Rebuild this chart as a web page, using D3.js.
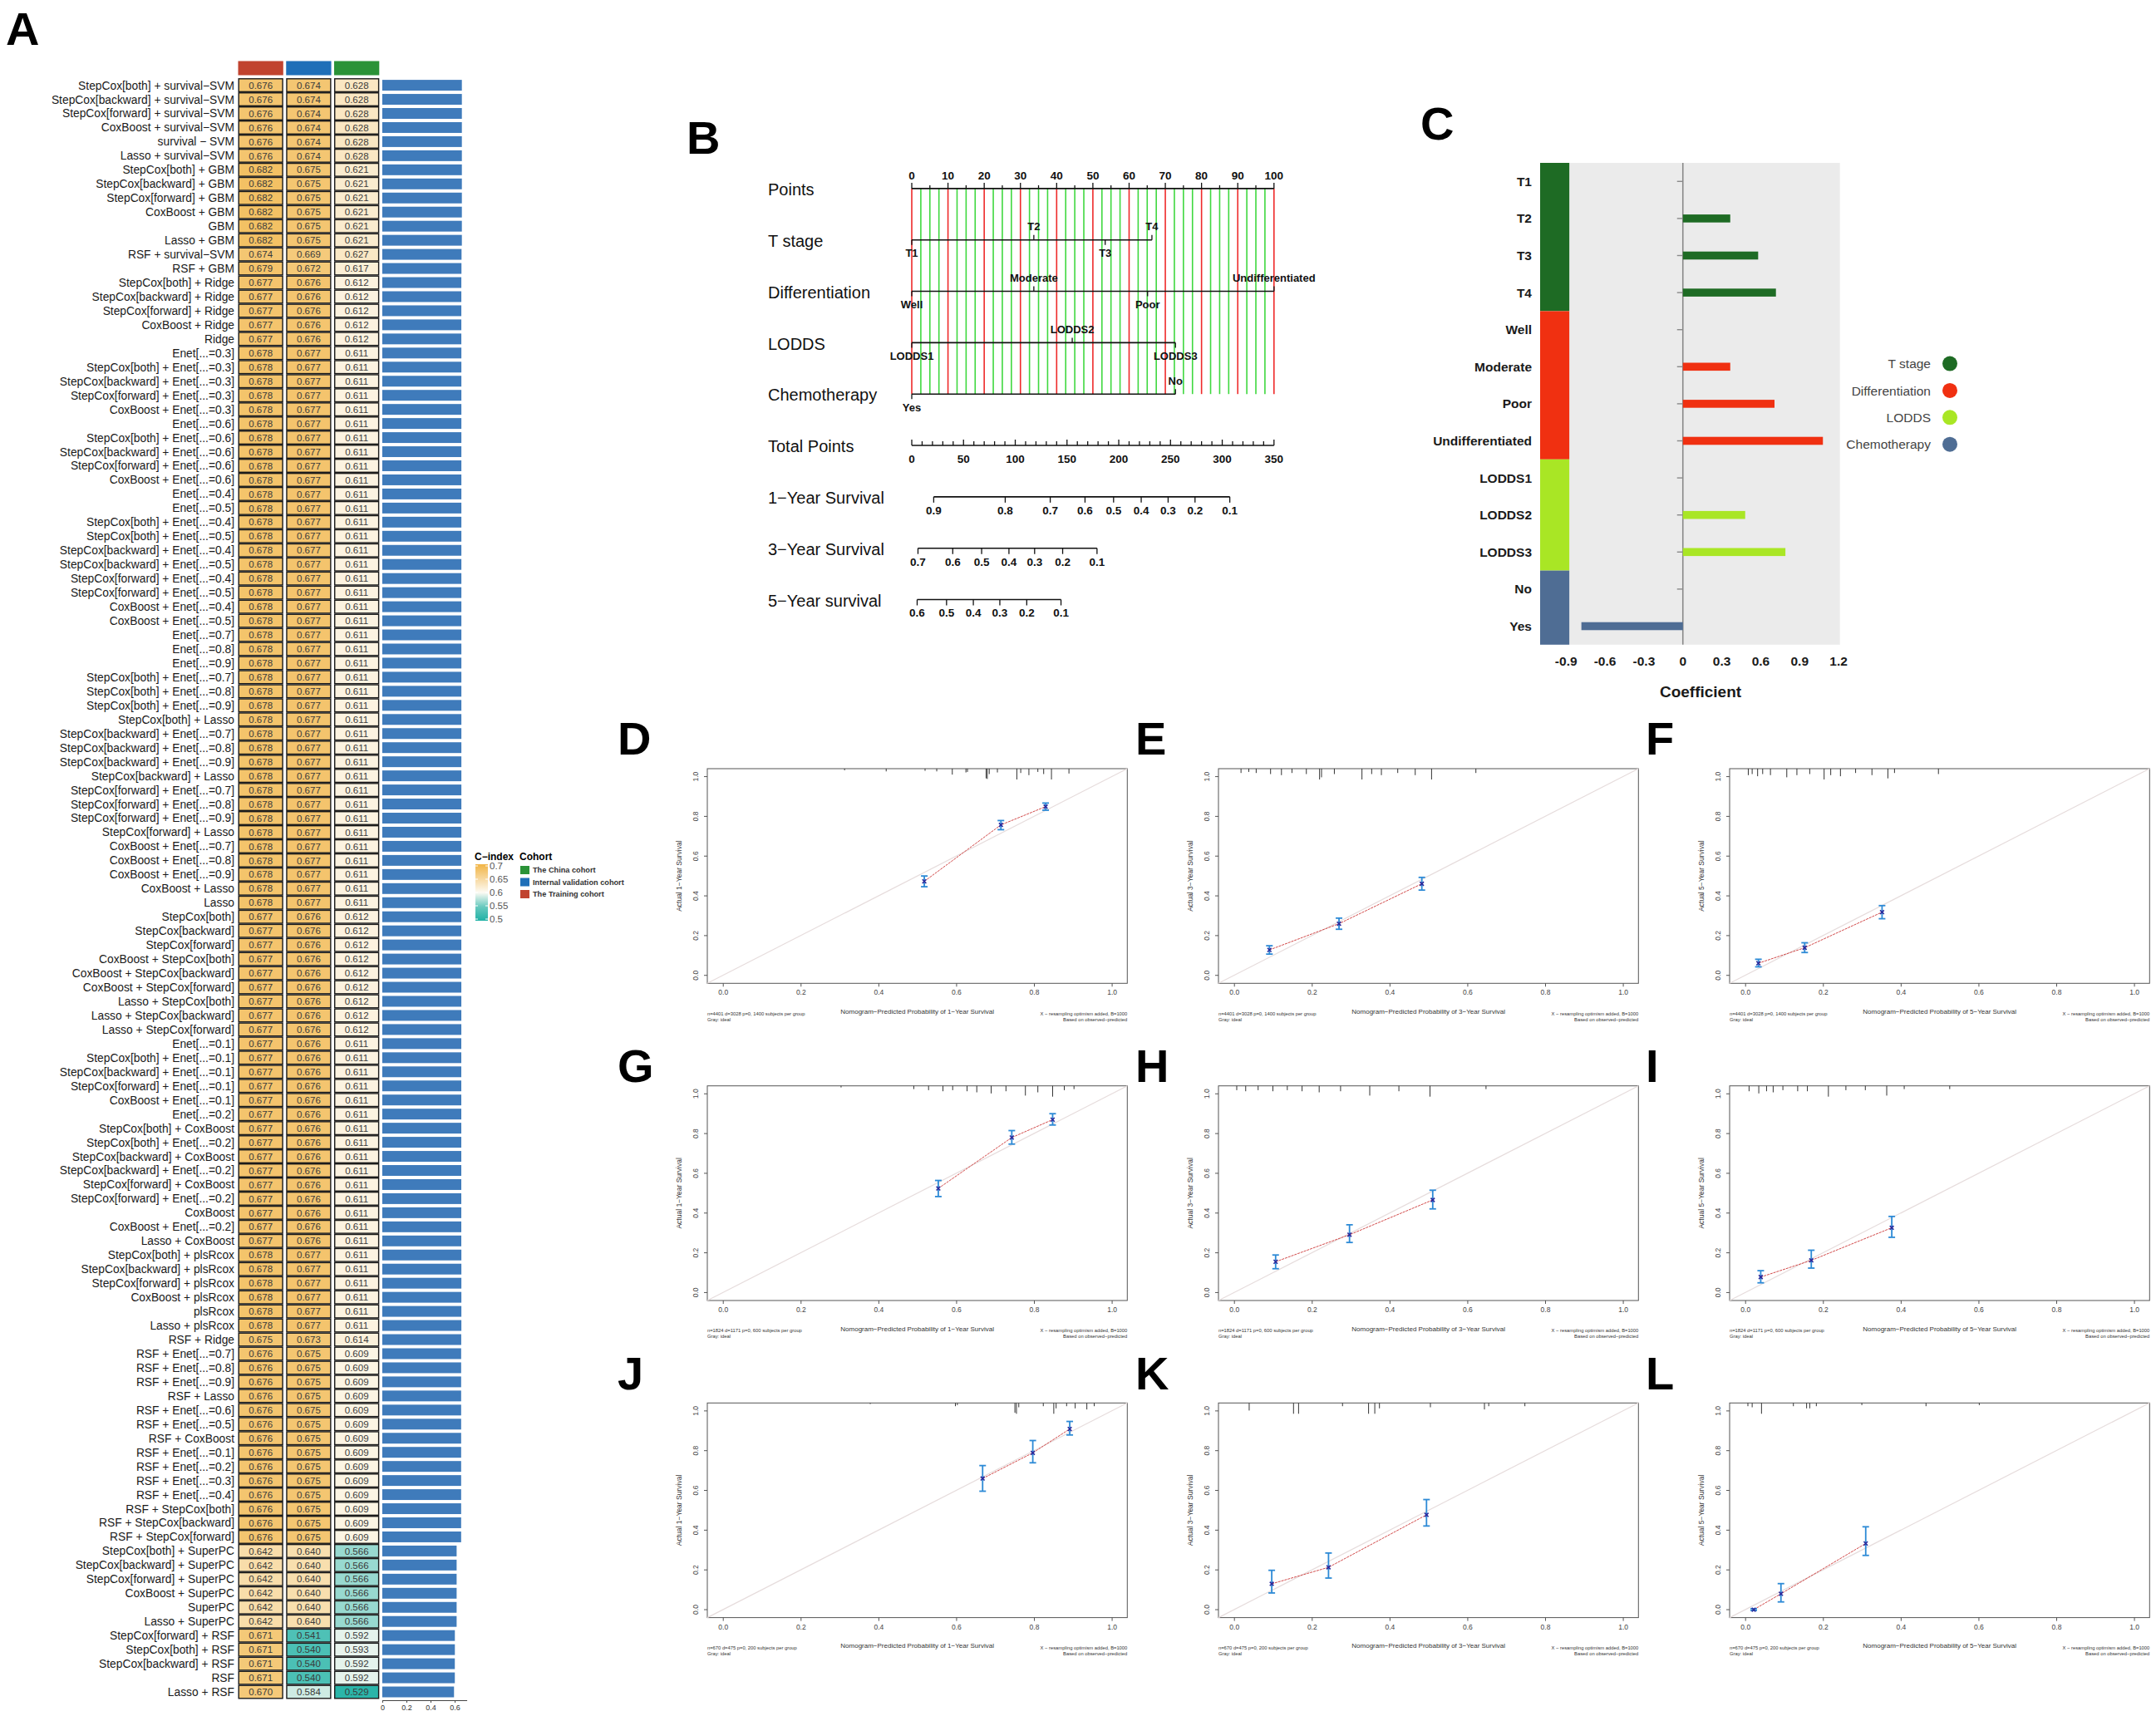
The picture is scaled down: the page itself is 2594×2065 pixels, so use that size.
<!DOCTYPE html>
<html>
<head>
<meta charset="utf-8">
<script src="https://cdn.jsdelivr.net/npm/d3@7"></script>
<style>
  body { margin: 0; background: #fff; }
  svg { display: block; }
  text { font-family: "Liberation Sans", Arial, sans-serif; }
</style>
</head>
<body>
<div id="chart"></div>
<script>
// ---------- Panel A: C-index of model combinations ----------
const modelNames = [
  "StepCox[both] + survival−SVM", "StepCox[backward] + survival−SVM", "StepCox[forward] + survival−SVM",
  "CoxBoost + survival−SVM", "survival − SVM", "Lasso + survival−SVM",
  "StepCox[both] + GBM", "StepCox[backward] + GBM", "StepCox[forward] + GBM", "CoxBoost + GBM", "GBM", "Lasso + GBM",
  "RSF + survival−SVM", "RSF + GBM",
  "StepCox[both] + Ridge", "StepCox[backward] + Ridge", "StepCox[forward] + Ridge", "CoxBoost + Ridge", "Ridge",
  "Enet[...=0.3]", "StepCox[both] + Enet[...=0.3]", "StepCox[backward] + Enet[...=0.3]", "StepCox[forward] + Enet[...=0.3]", "CoxBoost + Enet[...=0.3]",
  "Enet[...=0.6]", "StepCox[both] + Enet[...=0.6]", "StepCox[backward] + Enet[...=0.6]", "StepCox[forward] + Enet[...=0.6]", "CoxBoost + Enet[...=0.6]",
  "Enet[...=0.4]", "Enet[...=0.5]", "StepCox[both] + Enet[...=0.4]", "StepCox[both] + Enet[...=0.5]",
  "StepCox[backward] + Enet[...=0.4]", "StepCox[backward] + Enet[...=0.5]", "StepCox[forward] + Enet[...=0.4]", "StepCox[forward] + Enet[...=0.5]",
  "CoxBoost + Enet[...=0.4]", "CoxBoost + Enet[...=0.5]",
  "Enet[...=0.7]", "Enet[...=0.8]", "Enet[...=0.9]",
  "StepCox[both] + Enet[...=0.7]", "StepCox[both] + Enet[...=0.8]", "StepCox[both] + Enet[...=0.9]", "StepCox[both] + Lasso",
  "StepCox[backward] + Enet[...=0.7]", "StepCox[backward] + Enet[...=0.8]", "StepCox[backward] + Enet[...=0.9]", "StepCox[backward] + Lasso",
  "StepCox[forward] + Enet[...=0.7]", "StepCox[forward] + Enet[...=0.8]", "StepCox[forward] + Enet[...=0.9]", "StepCox[forward] + Lasso",
  "CoxBoost + Enet[...=0.7]", "CoxBoost + Enet[...=0.8]", "CoxBoost + Enet[...=0.9]", "CoxBoost + Lasso", "Lasso",
  "StepCox[both]", "StepCox[backward]", "StepCox[forward]",
  "CoxBoost + StepCox[both]", "CoxBoost + StepCox[backward]", "CoxBoost + StepCox[forward]",
  "Lasso + StepCox[both]", "Lasso + StepCox[backward]", "Lasso + StepCox[forward]",
  "Enet[...=0.1]", "StepCox[both] + Enet[...=0.1]", "StepCox[backward] + Enet[...=0.1]", "StepCox[forward] + Enet[...=0.1]", "CoxBoost + Enet[...=0.1]",
  "Enet[...=0.2]", "StepCox[both] + CoxBoost", "StepCox[both] + Enet[...=0.2]", "StepCox[backward] + CoxBoost", "StepCox[backward] + Enet[...=0.2]",
  "StepCox[forward] + CoxBoost", "StepCox[forward] + Enet[...=0.2]", "CoxBoost", "CoxBoost + Enet[...=0.2]", "Lasso + CoxBoost",
  "StepCox[both] + plsRcox", "StepCox[backward] + plsRcox", "StepCox[forward] + plsRcox", "CoxBoost + plsRcox", "plsRcox", "Lasso + plsRcox",
  "RSF + Ridge", "RSF + Enet[...=0.7]", "RSF + Enet[...=0.8]", "RSF + Enet[...=0.9]", "RSF + Lasso", "RSF + Enet[...=0.6]", "RSF + Enet[...=0.5]",
  "RSF + CoxBoost", "RSF + Enet[...=0.1]", "RSF + Enet[...=0.2]", "RSF + Enet[...=0.3]", "RSF + Enet[...=0.4]",
  "RSF + StepCox[both]", "RSF + StepCox[backward]", "RSF + StepCox[forward]",
  "StepCox[both] + SuperPC", "StepCox[backward] + SuperPC", "StepCox[forward] + SuperPC", "CoxBoost + SuperPC", "SuperPC", "Lasso + SuperPC",
  "StepCox[forward] + RSF", "StepCox[both] + RSF", "StepCox[backward] + RSF", "RSF", "Lasso + RSF"
];

const trainC = [
  0.676, 0.676, 0.676, 0.676, 0.676, 0.676,
  0.682, 0.682, 0.682, 0.682, 0.682, 0.682,
  0.674, 0.679,
  0.677, 0.677, 0.677, 0.677, 0.677,
  0.678, 0.678, 0.678, 0.678, 0.678, 0.678, 0.678, 0.678, 0.678, 0.678,
  0.678, 0.678, 0.678, 0.678, 0.678, 0.678, 0.678, 0.678, 0.678, 0.678,
  0.678, 0.678, 0.678, 0.678, 0.678, 0.678, 0.678, 0.678, 0.678, 0.678,
  0.678, 0.678, 0.678, 0.678, 0.678, 0.678, 0.678, 0.678, 0.678, 0.678,
  0.677, 0.677, 0.677, 0.677, 0.677, 0.677, 0.677, 0.677, 0.677,
  0.677, 0.677, 0.677, 0.677, 0.677, 0.677, 0.677, 0.677, 0.677, 0.677, 0.677, 0.677, 0.677, 0.677, 0.677,
  0.678, 0.678, 0.678, 0.678, 0.678, 0.678,
  0.675,
  0.676, 0.676, 0.676, 0.676, 0.676, 0.676, 0.676, 0.676, 0.676, 0.676, 0.676, 0.676, 0.676, 0.676,
  0.642, 0.642, 0.642, 0.642, 0.642, 0.642,
  0.671, 0.671, 0.671, 0.671, 0.670
];

const internalC = [
  0.674, 0.674, 0.674, 0.674, 0.674, 0.674,
  0.675, 0.675, 0.675, 0.675, 0.675, 0.675,
  0.669, 0.672,
  0.676, 0.676, 0.676, 0.676, 0.676,
  0.677, 0.677, 0.677, 0.677, 0.677, 0.677, 0.677, 0.677, 0.677, 0.677,
  0.677, 0.677, 0.677, 0.677, 0.677, 0.677, 0.677, 0.677, 0.677, 0.677,
  0.677, 0.677, 0.677, 0.677, 0.677, 0.677, 0.677, 0.677, 0.677, 0.677,
  0.677, 0.677, 0.677, 0.677, 0.677, 0.677, 0.677, 0.677, 0.677, 0.677,
  0.676, 0.676, 0.676, 0.676, 0.676, 0.676, 0.676, 0.676, 0.676,
  0.676, 0.676, 0.676, 0.676, 0.676, 0.676, 0.676, 0.676, 0.676, 0.676, 0.676, 0.676, 0.676, 0.676, 0.676,
  0.677, 0.677, 0.677, 0.677, 0.677, 0.677,
  0.673,
  0.675, 0.675, 0.675, 0.675, 0.675, 0.675, 0.675, 0.675, 0.675, 0.675, 0.675, 0.675, 0.675, 0.675,
  0.640, 0.640, 0.640, 0.640, 0.640, 0.640,
  0.541, 0.540, 0.540, 0.540, 0.584
];

const chinaC = [
  0.628, 0.628, 0.628, 0.628, 0.628, 0.628,
  0.621, 0.621, 0.621, 0.621, 0.621, 0.621,
  0.627, 0.617,
  0.612, 0.612, 0.612, 0.612, 0.612,
  0.611, 0.611, 0.611, 0.611, 0.611, 0.611, 0.611, 0.611, 0.611, 0.611,
  0.611, 0.611, 0.611, 0.611, 0.611, 0.611, 0.611, 0.611, 0.611, 0.611,
  0.611, 0.611, 0.611, 0.611, 0.611, 0.611, 0.611, 0.611, 0.611, 0.611,
  0.611, 0.611, 0.611, 0.611, 0.611, 0.611, 0.611, 0.611, 0.611, 0.611,
  0.612, 0.612, 0.612, 0.612, 0.612, 0.612, 0.612, 0.612, 0.612,
  0.611, 0.611, 0.611, 0.611, 0.611, 0.611, 0.611, 0.611, 0.611, 0.611, 0.611, 0.611, 0.611, 0.611, 0.611,
  0.611, 0.611, 0.611, 0.611, 0.611, 0.611,
  0.614,
  0.609, 0.609, 0.609, 0.609, 0.609, 0.609, 0.609, 0.609, 0.609, 0.609, 0.609, 0.609, 0.609, 0.609,
  0.566, 0.566, 0.566, 0.566, 0.566, 0.566,
  0.592, 0.593, 0.592, 0.592, 0.529
];

const cohortKeys = ["The Training cohort", "Internal validation cohort", "The China cohort"];
const cohortColors = ["#c1432f", "#1f6fb8", "#2b9338"];
const legendCohorts = ["The China cohort", "Internal validation cohort", "The Training cohort"];
const cIndexTicks = [0.7, 0.65, 0.6, 0.55, 0.5];
const barTicks = [0, 0.2, 0.4, 0.6];

// ---------- Panel B: nomogram ----------
const nomoRows = ["Points", "T stage", "Differentiation", "LODDS", "Chemotherapy",
                  "Total Points", "1−Year Survival", "3−Year Survival", "5−Year survival"];
const pointsTicks = [0, 10, 20, 30, 40, 50, 60, 70, 80, 90, 100];
const tStageLevels = ["T1", "T2", "T3", "T4"];
const tStagePoints = [0, 33.7, 53.4, 66.3];
const diffLevels = ["Well", "Moderate", "Poor", "Undifferentiated"];
const diffPoints = [0, 33.7, 65.1, 100];
const loddsLevels = ["LODDS1", "LODDS2", "LODDS3"];
const loddsPoints = [0, 44.3, 72.8];
const chemoLevels = ["Yes", "No"];
const chemoPoints = [0, 72.8];
const totalTicks = [0, 50, 100, 150, 200, 250, 300, 350];
const surv1Labels = ["0.9", "0.8", "0.7", "0.6", "0.5", "0.4", "0.3", "0.2", "0.1"];
const surv1Total = [21.2, 90.3, 133.8, 167.4, 195.0, 221.7, 247.7, 273.7, 307.3];
const surv3Labels = ["0.7", "0.6", "0.5", "0.4", "0.3", "0.2", "0.1"];
const surv3Total = [6.0, 39.6, 67.5, 93.9, 118.7, 145.8, 179.0];
const surv5Labels = ["0.6", "0.5", "0.4", "0.3", "0.2", "0.1"];
const surv5Total = [5.2, 33.6, 59.5, 85.1, 111.1, 144.2];

// ---------- Panel C: coefficients ----------
const coefTerms = ["T1", "T2", "T3", "T4", "Well", "Moderate", "Poor", "Undifferentiated",
                   "LODDS1", "LODDS2", "LODDS3", "No", "Yes"];
const coefGroup = ["T stage", "T stage", "T stage", "T stage",
                   "Differentiation", "Differentiation", "Differentiation", "Differentiation",
                   "LODDS", "LODDS", "LODDS", "Chemotherapy", "Chemotherapy"];
const coefValues = [0, 0.365, 0.58, 0.717, 0, 0.365, 0.706, 1.079, 0, 0.48, 0.79, 0, -0.782];
const coefGroups = ["T stage", "Differentiation", "LODDS", "Chemotherapy"];
const coefColors = ["#1e6b24", "#f03011", "#a9e625", "#4f6d94"];
const coefTicks = [-0.9, -0.6, -0.3, 0, 0.3, 0.6, 0.9, 1.2];

// ---------- Panels D-L: calibration curves ----------
const calPanels = ["D", "E", "F", "G", "H", "I", "J", "K", "L"];
const calYears = [1, 3, 5, 1, 3, 5, 1, 3, 5];
const calSubtitles = [
  "n=4401 d=3028 p=0, 1400 subjects per group", "n=4401 d=3028 p=0, 1400 subjects per group", "n=4401 d=3028 p=0, 1400 subjects per group",
  "n=1824 d=1171 p=0, 600 subjects per group", "n=1824 d=1171 p=0, 600 subjects per group", "n=1824 d=1171 p=0, 600 subjects per group",
  "n=670 d=475 p=0, 200 subjects per group", "n=670 d=475 p=0, 200 subjects per group", "n=670 d=475 p=0, 200 subjects per group"
];
const calPred = [
  [0.518, 0.715, 0.830], [0.091, 0.270, 0.483], [0.034, 0.153, 0.352],
  [0.554, 0.743, 0.848], [0.107, 0.297, 0.511], [0.040, 0.170, 0.377],
  [0.668, 0.797, 0.892], [0.097, 0.243, 0.495], [0.022, 0.092, 0.310]
];
const calObs = [
  [0.473, 0.757, 0.849], [0.128, 0.260, 0.461], [0.061, 0.139, 0.318],
  [0.524, 0.780, 0.870], [0.155, 0.291, 0.466], [0.078, 0.162, 0.326],
  [0.660, 0.789, 0.909], [0.130, 0.213, 0.477], [0.000, 0.080, 0.333]
];
const calLow = [
  [0.446, 0.733, 0.831], [0.107, 0.232, 0.429], [0.043, 0.115, 0.285],
  [0.483, 0.747, 0.843], [0.120, 0.252, 0.421], [0.049, 0.123, 0.278],
  [0.596, 0.739, 0.879], [0.084, 0.159, 0.421], [-0.004, 0.039, 0.273]
];
const calHigh = [
  [0.500, 0.779, 0.867], [0.149, 0.288, 0.493], [0.081, 0.164, 0.351],
  [0.564, 0.815, 0.900], [0.189, 0.341, 0.515], [0.110, 0.213, 0.383],
  [0.725, 0.851, 0.947], [0.198, 0.285, 0.554], [0.005, 0.131, 0.417]
];
const calRugX = [
  [0.313, 0.42, 0.52, 0.55, 0.59, 0.625, 0.629, 0.677, 0.68, 0.685, 0.706, 0.756, 0.766, 0.787, 0.81, 0.825, 0.845, 0.89],
  [0.018, 0.038, 0.057, 0.094, 0.122, 0.149, 0.186, 0.22, 0.225, 0.258, 0.329, 0.354, 0.379, 0.421, 0.466, 0.508, 0.622],
  [0.008, 0.018, 0.032, 0.045, 0.065, 0.107, 0.133, 0.166, 0.203, 0.22, 0.245, 0.284, 0.326, 0.367, 0.384, 0.497],
  [0.304, 0.491, 0.529, 0.566, 0.591, 0.628, 0.653, 0.69, 0.728, 0.778, 0.81, 0.848, 0.878, 0.903],
  [0.007, 0.03, 0.062, 0.1, 0.137, 0.175, 0.219, 0.274, 0.349, 0.424, 0.504, 0.648],
  [0.01, 0.035, 0.055, 0.072, 0.097, 0.135, 0.16, 0.214, 0.259, 0.309, 0.364, 0.409, 0.526],
  [0.379, 0.598, 0.603, 0.751, 0.755, 0.761, 0.824, 0.851, 0.857, 0.884, 0.906, 0.936, 0.955],
  [0.039, 0.153, 0.166, 0.279, 0.346, 0.362, 0.374, 0.505, 0.644, 0.655, 0.748],
  [0.007, 0.018, 0.042, 0.124, 0.158, 0.166, 0.183, 0.3, 0.465, 0.602]
];
const calRugH = [
  [0.15, 0.25, 0.2, 0.25, 0.55, 0.35, 0.3, 0.9, 0.95, 0.5, 0.35, 1.0, 0.4, 0.6, 0.3, 0.5, 1.0, 0.45],
  [0.4, 0.3, 0.4, 0.5, 0.6, 0.4, 0.5, 1.0, 0.8, 0.5, 1.0, 0.5, 0.6, 0.4, 0.6, 1.0, 0.4],
  [0.6, 0.5, 0.7, 0.5, 0.6, 0.8, 0.6, 0.5, 1.0, 0.6, 0.7, 0.4, 0.6, 0.9, 0.4, 0.5],
  [0.15, 0.3, 0.4, 0.5, 0.4, 0.5, 0.6, 0.7, 0.5, 0.9, 0.6, 1.0, 0.4, 0.3],
  [0.4, 0.5, 0.4, 0.5, 0.4, 0.5, 0.6, 0.5, 0.9, 0.5, 1.0, 0.3],
  [0.5, 0.7, 0.5, 0.6, 0.4, 0.5, 0.5, 1.0, 0.4, 0.4, 0.9, 0.3, 0.3],
  [0.1, 0.3, 0.2, 0.9, 1.0, 0.4, 0.3, 1.0, 0.5, 0.3, 0.5, 0.6, 0.3],
  [0.7, 1.0, 1.0, 0.3, 1.0, 1.0, 0.5, 0.4, 0.6, 0.3, 0.3],
  [0.3, 0.4, 1.0, 0.3, 0.5, 0.5, 0.3, 0.2, 0.3, 0.2]
];
const calTicks = [0, 0.2, 0.4, 0.6, 0.8, 1.0];

// ================= drawing =================
const W = 2594, H = 2065;
const narrow = "'Liberation Sans Narrow', 'Arial Narrow', sans-serif";

const svg = d3.select("#chart").append("svg")
  .attr("width", W).attr("height", H)
  .style("background", "#fff");

svg.append("rect").attr("width", W).attr("height", H).attr("fill", "#fff");

// panel letters
function letter(x, y, t) {
  svg.append("text").attr("x", x).attr("y", y)
    .style("font-size", "56px").style("font-weight", "bold").attr("fill", "#000")
    .text(t);
}

// ---------- Panel A ----------
letter(7, 54, "A");
const gA = svg.append("g");

const rowY = d3.scaleBand().domain(d3.range(modelNames.length)).range([94.1, 2044.5]);
const colX = d3.scaleBand().domain(cohortKeys).range([286.5, 456.3]).paddingInner(0.06);
const cScale = d3.scaleLinear().domain([0.525, 0.6, 0.7])
  .range(["#1fb1a5", "#fdfbf4", "#f1b445"]).clamp(true);
const barX = d3.scaleLinear().domain([0, 0.7]).range([459.9, 561.6]);

// cohort header boxes
gA.append("g").selectAll("rect").data(cohortKeys).join("rect")
  .attr("x", d => colX(d)).attr("y", 73.5)
  .attr("width", colX.bandwidth()).attr("height", 17)
  .attr("fill", (d, i) => cohortColors[i]);

// row labels
gA.append("g").selectAll("text").data(modelNames).join("text")
  .attr("x", 282).attr("y", (d, i) => rowY(i) + rowY.bandwidth() / 2)
  .attr("dy", "0.36em").attr("text-anchor", "end")
  .style("font-size", "13.8px").attr("fill", "#1a1a1a")
  .text(d => d);

// heatmap cells
[trainC, internalC, chinaC].forEach((vals, j) => {
  const k = cohortKeys[j];
  const g = gA.append("g");
  g.selectAll("rect").data(vals).join("rect")
    .attr("x", colX(k) + 0.7).attr("y", (d, i) => rowY(i) + 0.7)
    .attr("width", colX.bandwidth() - 1.4).attr("height", rowY.bandwidth() - 1.4)
    .attr("fill", d => cScale(d))
    .attr("stroke", "#1a1a1a").attr("stroke-width", 1.4);
  g.selectAll("text").data(vals).join("text")
    .attr("x", colX(k) + colX.bandwidth() / 2)
    .attr("y", (d, i) => rowY(i) + rowY.bandwidth() / 2)
    .attr("dy", "0.36em").attr("text-anchor", "middle")
    .style("font-size", "11.5px").attr("fill", "#3a3a3a")
    .text(d => d3.format(".3f")(d));
});

// mean C-index bars
const meanC = modelNames.map((d, i) => d3.mean([trainC[i], internalC[i], chinaC[i]]));
gA.append("g").selectAll("rect").data(meanC).join("rect")
  .attr("x", barX(0)).attr("y", (d, i) => rowY(i) + 2)
  .attr("width", d => barX(d) - barX(0)).attr("height", rowY.bandwidth() - 4)
  .attr("fill", "#3f7bbb");

const axA = gA.append("g").attr("transform", "translate(0,2046)")
  .call(d3.axisBottom(barX).tickValues(barTicks).tickSize(3).tickSizeOuter(0)
    .tickFormat(d => d === 0 ? "0" : d3.format(".1f")(d)));
axA.selectAll("text").style("font-size", "9px").attr("fill", "#333")
  .style("font-family", "'Liberation Sans', Arial, sans-serif");
axA.selectAll("line,path").attr("stroke", "#444");

// legends
const legA = gA.append("g");
legA.append("text").attr("x", 571).attr("y", 1035).style("font-size", "12px")
  .style("font-weight", "bold").text("C−index");
legA.append("text").attr("x", 625).attr("y", 1035).style("font-size", "12px")
  .style("font-weight", "bold").text("Cohort");
const grad = svg.append("defs").append("linearGradient").attr("id", "cgrad")
  .attr("x1", 0).attr("y1", 1).attr("x2", 0).attr("y2", 0);
[0.5, 0.55, 0.6, 0.65, 0.7].forEach(v => {
  grad.append("stop").attr("offset", (v - 0.5) / 0.2).attr("stop-color", cScale(v));
});
const cLeg = d3.scaleLinear().domain([0.5, 0.7]).range([1106, 1042]);
legA.append("rect").attr("x", 572).attr("y", 1040).attr("width", 15).attr("height", 68)
  .attr("fill", "url(#cgrad)");
legA.selectAll("line.ct").data(cIndexTicks).join("line")
  .attr("x1", 572).attr("x2", 575).attr("y1", d => cLeg(d)).attr("y2", d => cLeg(d))
  .attr("stroke", "#fff").attr("stroke-width", 1);
legA.selectAll("line.ct2").data(cIndexTicks).join("line")
  .attr("x1", 584).attr("x2", 587).attr("y1", d => cLeg(d)).attr("y2", d => cLeg(d))
  .attr("stroke", "#fff").attr("stroke-width", 1);
legA.selectAll("text.cl").data(cIndexTicks).join("text")
  .attr("x", 589).attr("y", d => cLeg(d)).attr("dy", "0.36em")
  .style("font-size", "11.5px").attr("fill", "#555").text(d => d);
legA.selectAll("rect.ck").data(legendCohorts).join("rect")
  .attr("x", 626).attr("y", (d, i) => 1042 + i * 14.5).attr("width", 11).attr("height", 10)
  .attr("fill", d => cohortColors[cohortKeys.indexOf(d)]);
legA.selectAll("text.ckt").data(legendCohorts).join("text")
  .attr("x", 641).attr("y", (d, i) => 1047 + i * 14.5).attr("dy", "0.36em")
  .style("font-size", "9.2px").style("font-weight", "bold").attr("fill", "#333")
  .text(d => d);

// ---------- Panel B ----------
letter(826, 185, "B");
const gB = svg.append("g");
const ptsX = d3.scaleLinear().domain([0, 100]).range([1097, 1532.8]);
const totX = d3.scaleLinear().domain([0, 350]).range([1097, 1532.8]);
const rowB = d3.scalePoint().domain(nomoRows).range([226.9, 721.5]);

gB.selectAll("text.rl").data(nomoRows).join("text")
  .attr("x", 924).attr("y", d => rowB(d) + 1).attr("dy", "0.36em")
  .style("font-family", narrow).style("font-size", "20px").attr("fill", "#111")
  .text(d => d);

// guide lines every 2.5 points
const guide = d3.range(0, 100.001, 2.5);
gB.append("g").selectAll("line").data(guide).join("line")
  .attr("x1", d => ptsX(d)).attr("x2", d => ptsX(d))
  .attr("y1", rowB("Points")).attr("y2", rowB("Chemotherapy"))
  .attr("stroke", d => (Number.isInteger(d) && d % 10 === 0) ? "#ee2a2a" : "#3fd83f")
  .attr("stroke-width", 1.6);

function hline(y, x1, x2) {
  gB.append("line").attr("x1", x1).attr("x2", x2).attr("y1", y).attr("y2", y)
    .attr("stroke", "#111").attr("stroke-width", 1.6);
}

// Points axis
hline(rowB("Points"), ptsX(0), ptsX(100));
gB.append("g").selectAll("line").data(d3.range(0, 101, 5)).join("line")
  .attr("x1", d => ptsX(d)).attr("x2", d => ptsX(d))
  .attr("y1", rowB("Points")).attr("y2", d => rowB("Points") - (d % 10 === 0 ? 7 : 4))
  .attr("stroke", "#111").attr("stroke-width", 1.3);
gB.append("g").selectAll("text").data(pointsTicks).join("text")
  .attr("x", d => ptsX(d)).attr("y", rowB("Points") - 16).attr("dy", "0.36em")
  .attr("text-anchor", "middle").style("font-family", narrow).style("font-size", "13.5px")
  .style("font-weight", "bold").attr("fill", "#111")
  .text(d => d);

// categorical axes
function catAxis(row, levels, pts) {
  const y = rowB(row);
  hline(y, ptsX(0), ptsX(d3.max(pts)));
  const g = gB.append("g");
  g.selectAll("line").data(levels).join("line")
    .attr("x1", (d, i) => ptsX(pts[i])).attr("x2", (d, i) => ptsX(pts[i]))
    .attr("y1", y).attr("y2", (d, i) => y + (i % 2 === 0 ? 6 : -6))
    .attr("stroke", "#111").attr("stroke-width", 1.3);
  g.selectAll("text").data(levels).join("text")
    .attr("x", (d, i) => ptsX(pts[i])).attr("y", (d, i) => y + (i % 2 === 0 ? 16 : -16))
    .attr("dy", "0.36em").attr("text-anchor", "middle")
    .style("font-family", narrow).style("font-size", "13px").style("font-weight", "bold")
    .attr("fill", "#111")
    .text(d => d);
}
catAxis("T stage", tStageLevels, tStagePoints);
catAxis("Differentiation", diffLevels, diffPoints);
catAxis("LODDS", loddsLevels, loddsPoints);
catAxis("Chemotherapy", chemoLevels, chemoPoints);

// Total points axis
const yTot = rowB("Total Points");
hline(yTot, totX(0), totX(350));
gB.append("g").selectAll("line").data(d3.range(0, 351, 10)).join("line")
  .attr("x1", d => totX(d)).attr("x2", d => totX(d))
  .attr("y1", yTot).attr("y2", d => yTot - (d % 50 === 0 ? 7 : 5))
  .attr("stroke", "#111").attr("stroke-width", 1.3);
gB.append("g").selectAll("text").data(totalTicks).join("text")
  .attr("x", d => totX(d)).attr("y", yTot + 16).attr("dy", "0.36em")
  .attr("text-anchor", "middle").style("font-family", narrow).style("font-size", "13.5px")
  .style("font-weight", "bold").attr("fill", "#111")
  .text(d => d);

// survival axes
function survAxis(row, labels, totals) {
  const y = rowB(row);
  hline(y, totX(d3.min(totals)), totX(d3.max(totals)));
  const g = gB.append("g");
  g.selectAll("line").data(totals).join("line")
    .attr("x1", d => totX(d)).attr("x2", d => totX(d))
    .attr("y1", y).attr("y2", y + 7)
    .attr("stroke", "#111").attr("stroke-width", 1.3);
  g.selectAll("text").data(labels).join("text")
    .attr("x", (d, i) => totX(totals[i])).attr("y", y + 16).attr("dy", "0.36em")
    .attr("text-anchor", "middle").style("font-family", narrow).style("font-size", "13.5px")
    .style("font-weight", "bold").attr("fill", "#111")
    .text(d => d);
}
survAxis("1−Year Survival", surv1Labels, surv1Total);
survAxis("3−Year Survival", surv3Labels, surv3Total);
survAxis("5−Year survival", surv5Labels, surv5Total);

// ---------- Panel C ----------
letter(1709, 168, "C");
const gC = svg.append("g");
const cx = d3.scaleLinear().domain([-1.1, 1.21]).range([1853, 2213.7]);
const cy = d3.scaleBand().domain(coefTerms).range([196, 775.8]);
const groupColor = d3.scaleOrdinal().domain(coefGroups).range(coefColors);

gC.append("rect").attr("x", cx(-0.875)).attr("y", 196)
  .attr("width", cx(1.21) - cx(-0.875)).attr("height", 775.8 - 196).attr("fill", "#ebebeb");

// group strip
coefGroups.forEach(gName => {
  const terms = coefTerms.filter((t, i) => coefGroup[i] === gName);
  const y0 = cy(terms[0]), y1 = cy(terms[terms.length - 1]) + cy.bandwidth();
  gC.append("rect").attr("x", cx(-1.1)).attr("y", y0)
    .attr("width", cx(-0.875) - cx(-1.1)).attr("height", y1 - y0)
    .attr("fill", groupColor(gName));
});

gC.append("line").attr("x1", cx(0)).attr("x2", cx(0)).attr("y1", 196).attr("y2", 775.8)
  .attr("stroke", "#8a8a8a").attr("stroke-width", 1.6);
gC.append("g").selectAll("line").data(coefTerms).join("line")
  .attr("x1", cx(0) - 7).attr("x2", cx(0))
  .attr("y1", d => cy(d) + cy.bandwidth() / 2).attr("y2", d => cy(d) + cy.bandwidth() / 2)
  .attr("stroke", "#8a8a8a").attr("stroke-width", 1.4);

gC.append("g").selectAll("rect").data(coefValues).join("rect")
  .attr("x", d => cx(Math.min(0, d))).attr("width", d => Math.abs(cx(d) - cx(0)))
  .attr("y", (d, i) => cy(coefTerms[i]) + cy.bandwidth() / 2 - 4.8).attr("height", 9.6)
  .attr("fill", (d, i) => groupColor(coefGroup[i]));

gC.append("g").selectAll("text").data(coefTerms).join("text")
  .attr("x", 1843).attr("y", d => cy(d) + cy.bandwidth() / 2).attr("dy", "0.36em")
  .attr("text-anchor", "end").style("font-size", "15.5px").style("font-weight", "bold")
  .attr("fill", "#1a1a1a").text(d => d);

gC.append("g").selectAll("text").data(coefTicks).join("text")
  .attr("x", d => cx(d)).attr("y", 795).attr("dy", "0.36em").attr("text-anchor", "middle")
  .style("font-size", "15.5px").style("font-weight", "bold").attr("fill", "#1a1a1a")
  .text(d => d);
gC.append("text").attr("x", 2046).attr("y", 832).attr("dy", "0.36em").attr("text-anchor", "middle")
  .style("font-size", "19px").style("font-weight", "bold").attr("fill", "#1a1a1a").text("Coefficient");

const legY = d3.scalePoint().domain(coefGroups).range([437.6, 534.7]);
gC.append("g").selectAll("text").data(coefGroups).join("text")
  .attr("x", 2323).attr("y", d => legY(d)).attr("dy", "0.36em").attr("text-anchor", "end")
  .style("font-size", "15.5px").attr("fill", "#444").text(d => d);
gC.append("g").selectAll("circle").data(coefGroups).join("circle")
  .attr("cx", 2346).attr("cy", d => legY(d)).attr("r", 9)
  .attr("fill", d => groupColor(d));

// ---------- Panels D-L ----------
const boxW = 505.3, boxH = 258.3;
const colLeft = [851, 1466, 2081];
const rowTop = [925, 1306.7, 1688.3];
const letterX = [743, 1366, 1980];
const letterBase = [908, 1302, 1672];

calPanels.forEach((name, p) => {
  const c = p % 3, r = Math.floor(p / 3);
  const bx = colLeft[c], by = rowTop[r];
  letter(letterX[c], letterBase[r], name);

  const x = d3.scaleLinear().domain([-0.04, 1.04]).range([bx, bx + boxW]);
  const y = d3.scaleLinear().domain([-0.04, 1.04]).range([by + boxH, by]);
  const g = svg.append("g");

  g.append("rect").attr("x", bx).attr("y", by).attr("width", boxW).attr("height", boxH)
    .attr("fill", "none").attr("stroke", "#555").attr("stroke-width", 1);

  // ideal line
  g.append("line").attr("x1", x(-0.04)).attr("y1", y(-0.04)).attr("x2", x(1.04)).attr("y2", y(1.04))
    .attr("stroke", "#e6dcdc").attr("stroke-width", 1.2);

  // rug of predictions
  g.append("g").selectAll("line").data(calRugX[p]).join("line")
    .attr("x1", d => x(d)).attr("x2", d => x(d)).attr("y1", by)
    .attr("y2", (d, i) => by + calRugH[p][i] * 13)
    .attr("stroke", "#333").attr("stroke-width", 1);

  // x axis
  const ax = g.append("g").attr("transform", `translate(0,${by + boxH})`)
    .call(d3.axisBottom(x).tickValues(calTicks).tickSize(4).tickPadding(4)
      .tickFormat(d3.format(".1f")));
  ax.select(".domain").remove();
  ax.selectAll("line").attr("stroke", "#555");
  ax.selectAll("text").style("font-size", "8.5px").attr("fill", "#444")
    .style("font-family", "'Liberation Sans', Arial, sans-serif");

  // y axis (rotated labels)
  const ay = g.append("g");
  ay.selectAll("line").data(calTicks).join("line")
    .attr("x1", bx - 4).attr("x2", bx).attr("y1", d => y(d)).attr("y2", d => y(d))
    .attr("stroke", "#555");
  ay.selectAll("text").data(calTicks).join("text")
    .attr("transform", d => `translate(${bx - 12},${y(d)}) rotate(-90)`)
    .attr("text-anchor", "middle").attr("dy", "0.1em")
    .style("font-size", "8.5px").attr("fill", "#444").text(d3.format(".1f"));

  g.append("text").attr("transform", `translate(${bx - 31},${by + boxH / 2}) rotate(-90)`)
    .attr("text-anchor", "middle").style("font-size", "8.5px").attr("fill", "#333")
    .text(`Actual ${calYears[p]}−Year Survival`);
  g.append("text").attr("x", bx + boxW / 2).attr("y", by + 292).attr("dy", "0.36em")
    .attr("text-anchor", "middle").style("font-size", "8px").attr("fill", "#333")
    .text(`Nomogram−Predicted Probability of ${calYears[p]}−Year Survival`);
  g.append("text").attr("x", bx).attr("y", by + 294.5).attr("dy", "0.36em")
    .style("font-size", "5.8px").attr("fill", "#333").text(calSubtitles[p]);
  g.append("text").attr("x", bx).attr("y", by + 301.5).attr("dy", "0.36em")
    .style("font-size", "5.8px").attr("fill", "#333").text("Gray: ideal");
  g.append("text").attr("x", bx + boxW).attr("y", by + 294.5).attr("dy", "0.36em")
    .attr("text-anchor", "end").style("font-size", "5.8px").attr("fill", "#333")
    .text("X − resampling optimism added, B=1000");
  g.append("text").attr("x", bx + boxW).attr("y", by + 301.5).attr("dy", "0.36em")
    .attr("text-anchor", "end").style("font-size", "5.8px").attr("fill", "#333")
    .text("Based on observed−predicted");

  // calibration curve
  const pts = calPred[p].map((v, i) => [v, calObs[p][i]]);
  g.append("path").attr("d", d3.line().x(d => x(d[0])).y(d => y(d[1]))(pts))
    .attr("fill", "none").attr("stroke", "#d24a4a").attr("stroke-width", 1)
    .attr("stroke-dasharray", "3,1");

  // error bars
  const eb = g.append("g").attr("stroke", "#2d8ad6").attr("stroke-width", 1.8);
  calPred[p].forEach((v, i) => {
    const xv = x(v);
    eb.append("line").attr("x1", xv).attr("x2", xv).attr("y1", y(calLow[p][i])).attr("y2", y(calHigh[p][i]));
    eb.append("line").attr("x1", xv - 4).attr("x2", xv + 4).attr("y1", y(calLow[p][i])).attr("y2", y(calLow[p][i]));
    eb.append("line").attr("x1", xv - 4).attr("x2", xv + 4).attr("y1", y(calHigh[p][i])).attr("y2", y(calHigh[p][i]));
  });
  g.append("g").selectAll("path").data(pts).join("path")
    .attr("transform", d => `translate(${x(d[0])},${y(d[1])})`)
    .attr("d", d3.symbol(d3.symbolX, 16))
    .attr("stroke", "#2a2a9c").attr("stroke-width", 1.6).attr("fill", "none");
});
</script>
</body>
</html>
